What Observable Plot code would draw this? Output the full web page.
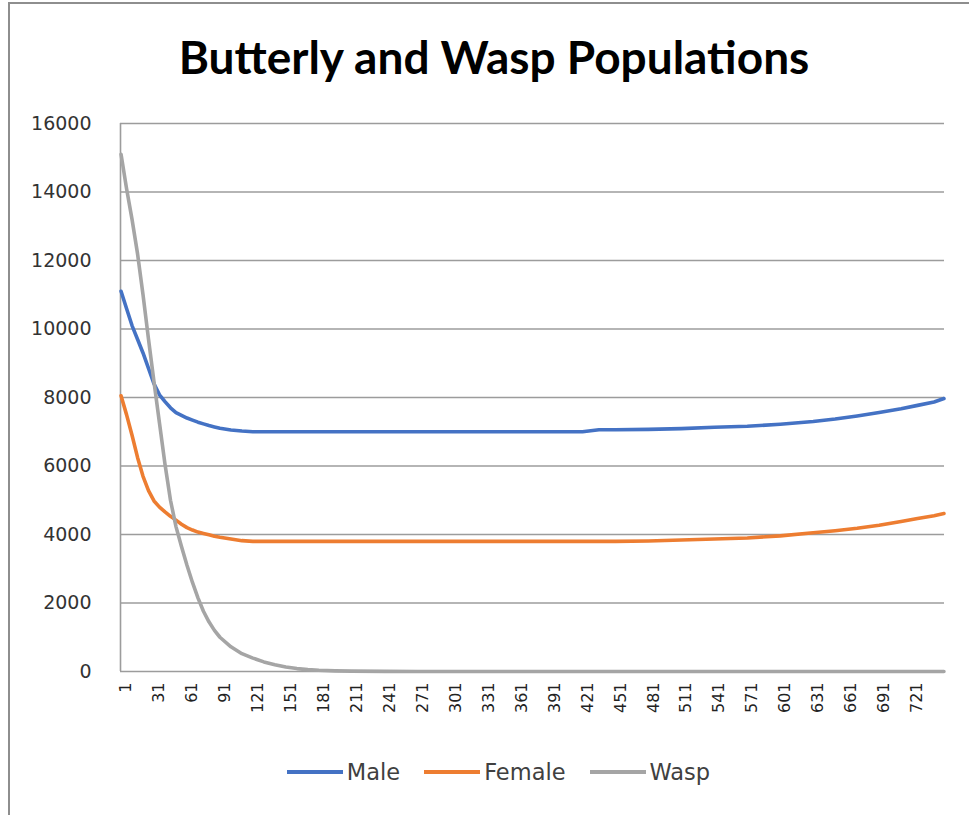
<!DOCTYPE html>
<html>
<head>
<meta charset="utf-8">
<script src="https://cdn.jsdelivr.net/npm/d3@7"></script>
<script src="https://cdn.jsdelivr.net/npm/@observablehq/plot@0.6"></script>
<style>
  html, body { margin: 0; padding: 0; background: #fff; }
  #page { position: relative; width: 969px; height: 815px; overflow: hidden; background: #fff; }
  #frame { position: absolute; left: 8px; top: 2px; width: 1100px; height: 1000px;
           border-left: 2px solid #8e8e8e; border-top: 2px solid #8e8e8e; }
  #title { position: absolute; left: 0; top: 29px; width: 988px; text-align: center;
           font: bold 46px Lato, sans-serif; color: #000; white-space: nowrap; }
  #chart { position: absolute; left: 0; top: 100px; }
  #legend { position: absolute; left: 0; top: 759px; width: 997px; display: flex;
            justify-content: center; align-items: center; gap: 24px;
            font: 22.5px "DejaVu Sans", sans-serif; color: #404040; }
  .item { display: flex; align-items: center; }
  .swatch { display: inline-block; width: 56px; height: 4px; margin-right: 4px; }
</style>
</head>
<body>
<div id="page">
  <div id="frame"></div>
  <div id="title">Butterly and Wasp Populations</div>
  <div id="chart"></div>
  <div id="legend"></div>
</div>
<script>
// Day of the simulation at which each population is recorded
const day = [1, 6, 11, 16, 21, 26, 31, 36, 41, 46, 51, 56, 61, 66, 71, 76, 81, 86, 91,
             101, 111, 121, 131, 141, 151, 161, 171, 181, 196, 211, 241, 271, 301, 331,
             361, 391, 421, 436, 451, 481, 511, 541, 571, 601, 631, 651, 671, 691, 711,
             726, 741, 750];

// Male butterflies
const male = [11100, 10600, 10100, 9700, 9300, 8850, 8400, 8080, 7880, 7700, 7560, 7480, 7400,
              7340, 7280, 7230, 7180, 7140, 7100, 7050, 7020, 7000, 7000, 7000, 7000, 7000,
              7000, 7000, 7000, 7000, 7000, 7000, 7000, 7000, 7000, 7000, 7000, 7060, 7060,
              7070, 7090, 7130, 7160, 7220, 7300, 7370, 7460, 7560, 7670, 7770, 7870, 7970];

// Female butterflies
const female = [8050, 7500, 6900, 6250, 5700, 5280, 4980, 4800, 4660, 4530, 4420, 4300, 4200,
                4130, 4070, 4030, 3990, 3950, 3920, 3870, 3820, 3800, 3800, 3800, 3800, 3800,
                3800, 3800, 3800, 3800, 3800, 3800, 3800, 3800, 3800, 3800, 3800, 3800, 3800,
                3810, 3840, 3870, 3900, 3960, 4050, 4110, 4180, 4270, 4380, 4470, 4550, 4610];

// Wasps
const wasp = [15100, 14100, 13200, 12200, 11000, 9700, 8450, 7250, 6050, 5000, 4230, 3650, 3100,
              2600, 2150, 1760, 1450, 1200, 1000, 720, 520, 390, 280, 200, 130, 85, 55, 35, 18,
              10, 4, 2, 0, 0, 0, 0, 0, 0, 0, 0, 0, 0, 0, 0, 0, 0, 0, 0, 0, 0, 0, 0];

const seriesNames = ["Male", "Female", "Wasp"];
const seriesColors = ["#4472C4", "#ED7D31", "#A5A5A5"];
const seriesValues = [male, female, wasp];

// Axis labels
const xTickDays = [1, 31, 61, 91, 121, 151, 181, 211, 241, 271, 301, 331, 361, 391, 421, 451,
                   481, 511, 541, 571, 601, 631, 661, 691, 721];
const yTicks = [0, 2000, 4000, 6000, 8000, 10000, 12000, 14000, 16000];
const dayCount = 750;

// Long-format rows for the line marks
const rows = seriesNames.flatMap((name, s) =>
  day.map((d, i) => ({ series: name, day: d, count: seriesValues[s][i] })));

const gridColor = "#9c9c9c";

const chart = Plot.plot({
  width: 969,
  height: 640,
  marginLeft: 120,
  marginRight: 25,
  marginTop: 23,
  marginBottom: 69,
  style: { fontFamily: "'DejaVu Sans', sans-serif", fontSize: "19px", color: "#333", background: "transparent" },
  x: { type: "linear", domain: [0.5, dayCount + 0.5], label: null },
  y: { domain: [0, 16000], label: null },
  color: { domain: seriesNames, range: seriesColors },
  marks: [
    Plot.gridY(yTicks, { stroke: gridColor, strokeOpacity: 1, strokeWidth: 1.6 }),
    Plot.ruleX([0.5], { stroke: gridColor, strokeWidth: 1.6 }),
    Plot.axisY(yTicks, { label: null, tickSize: 0, tickPadding: 29, tickFormat: d => String(d), fontSize: 19 }),
    Plot.axisX(xTickDays, { label: null, tickSize: 0, tickPadding: 11, tickRotate: -90, dx: 5,
                            tickFormat: d => String(d), fontSize: 16, fill: "#222" }),
    Plot.lineY(rows, { x: "day", y: "count", z: "series", stroke: "series", strokeWidth: 3.6, strokeLinejoin: "round" })
  ]
});
document.getElementById("chart").append(chart);

// Legend below the plot
const legend = document.getElementById("legend");
seriesNames.forEach((name, i) => {
  const item = document.createElement("div");
  item.className = "item";
  const sw = document.createElement("span");
  sw.className = "swatch";
  sw.style.background = seriesColors[i];
  const label = document.createElement("span");
  label.textContent = name;
  item.append(sw, label);
  legend.append(item);
});
</script>
</body>
</html>
